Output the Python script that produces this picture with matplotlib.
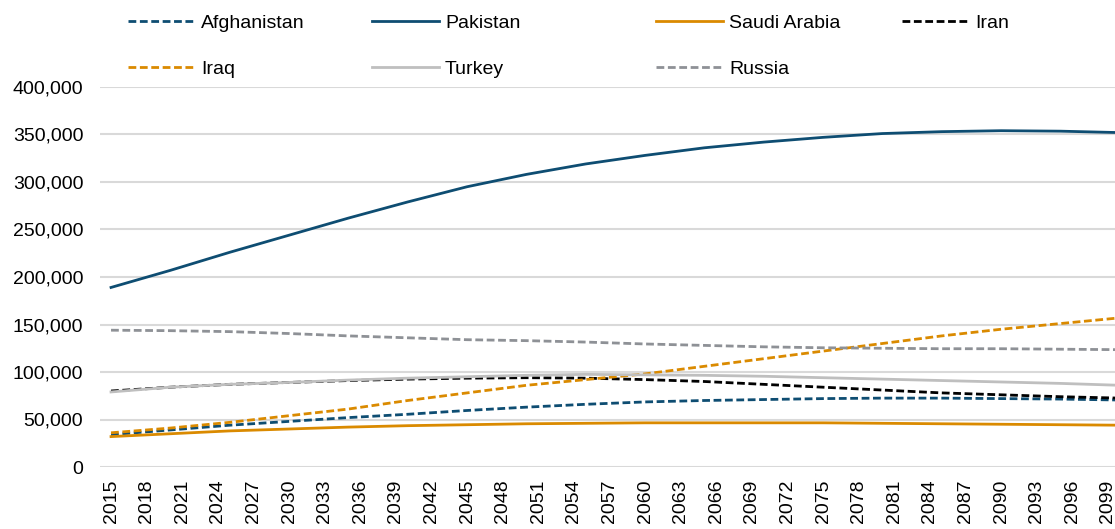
import matplotlib.pyplot as plt
import numpy as np

plt.rcParams['font.family'] = ['Liberation Sans', 'DejaVu Sans']

years = [2015, 2020, 2025, 2030, 2035, 2040, 2045, 2050, 2055,
         2060, 2065, 2070, 2075, 2080, 2085, 2090, 2095, 2100]

afghanistan = [34, 39, 44, 48, 52, 55.5, 59.5, 63, 66,
               68.5, 70, 71, 72, 72.5, 72.5, 72, 71.5, 70.5]
pakistan = [189, 207, 226, 244, 262, 279, 295, 308, 319,
            328, 336, 342, 347, 351, 353, 354, 353.5, 352]
saudi_arabia = [32, 35, 38, 40, 42, 43.5, 44.5, 45.5, 46,
                46.5, 46.5, 46.5, 46.5, 46, 45.5, 45, 44.5, 44]
iran = [80, 84, 87, 89, 91, 92.5, 93.5, 94, 93.5,
        92, 90, 87, 84, 81, 78, 76, 74, 72.5]
iraq = [36, 41, 47, 54, 61, 70, 78, 86, 92,
        98, 106, 114, 122, 130, 138, 145, 151, 157]
turkey = [79, 84, 87, 89, 91.5, 93.5, 95, 96.5, 97.5,
          97, 96.5, 95.5, 94, 92.5, 91, 89.5, 88, 86]
russia = [144, 143.5, 142.5, 140.5, 138, 136, 134, 133, 131.5,
          129.5, 128, 126.5, 125.5, 125, 124.5, 124.5, 124, 123.5]

dark_blue = '#0E4D72'
orange = '#DA8A00'
light_grey = '#BFBFBF'
mid_grey = '#8E9196'
dash = (2.8, 1.3)

series = [
    ('Afghanistan', afghanistan, dark_blue, True),
    ('Pakistan', pakistan, dark_blue, False),
    ('Saudi Arabia', saudi_arabia, orange, False),
    ('Iran', iran, 'black', True),
    ('Iraq', iraq, orange, True),
    ('Turkey', turkey, light_grey, False),
    ('Russia', russia, mid_grey, True),
]

fig = plt.figure(figsize=(11.15, 5.29), dpi=100)
ax = fig.add_axes([100 / 1115, 62 / 529, 1015 / 1115, 380 / 529])

lines = {}
for name, vals, col, dashed in series:
    ln, = ax.plot(years, np.array(vals) * 1000, color=col, lw=2.0,
                  label=name, zorder=3)
    if dashed:
        ln.set_dashes(dash)
    lines[name] = ln

ax.set_xlim(2014.07, 2099.6)
ax.set_ylim(0, 400000)
ax.set_yticks(np.arange(0, 400001, 50000))
ax.yaxis.set_major_formatter(plt.FuncFormatter(lambda v, p: f'{int(v):,}'))
ax.set_xticks(np.arange(2015, 2100, 3))
ax.tick_params(axis='x', labelrotation=90, length=0, pad=9, labelsize=14)
ax.tick_params(axis='y', length=0, pad=12, labelsize=14)
ax.grid(axis='y', color='#D9D9D9', lw=1.5, zorder=0)
for s in ax.spines.values():
    s.set_visible(False)

# legend laid out in 4 columns like the original
cols = [['Afghanistan', 'Iraq'], ['Pakistan', 'Turkey'],
        ['Saudi Arabia', 'Russia'], ['Iran']]
xs = [128, 372, 656, 902]
for names, x in zip(cols, xs):
    fig.legend([lines[n] for n in names], names, loc='upper left',
               bbox_to_anchor=(x / 1115, 1 - 14 / 529), frameon=False,
               fontsize=14, handlelength=3.45, handletextpad=0.3,
               borderpad=0, borderaxespad=0, labelspacing=1.48)

fig.savefig('out.png', dpi=100)
